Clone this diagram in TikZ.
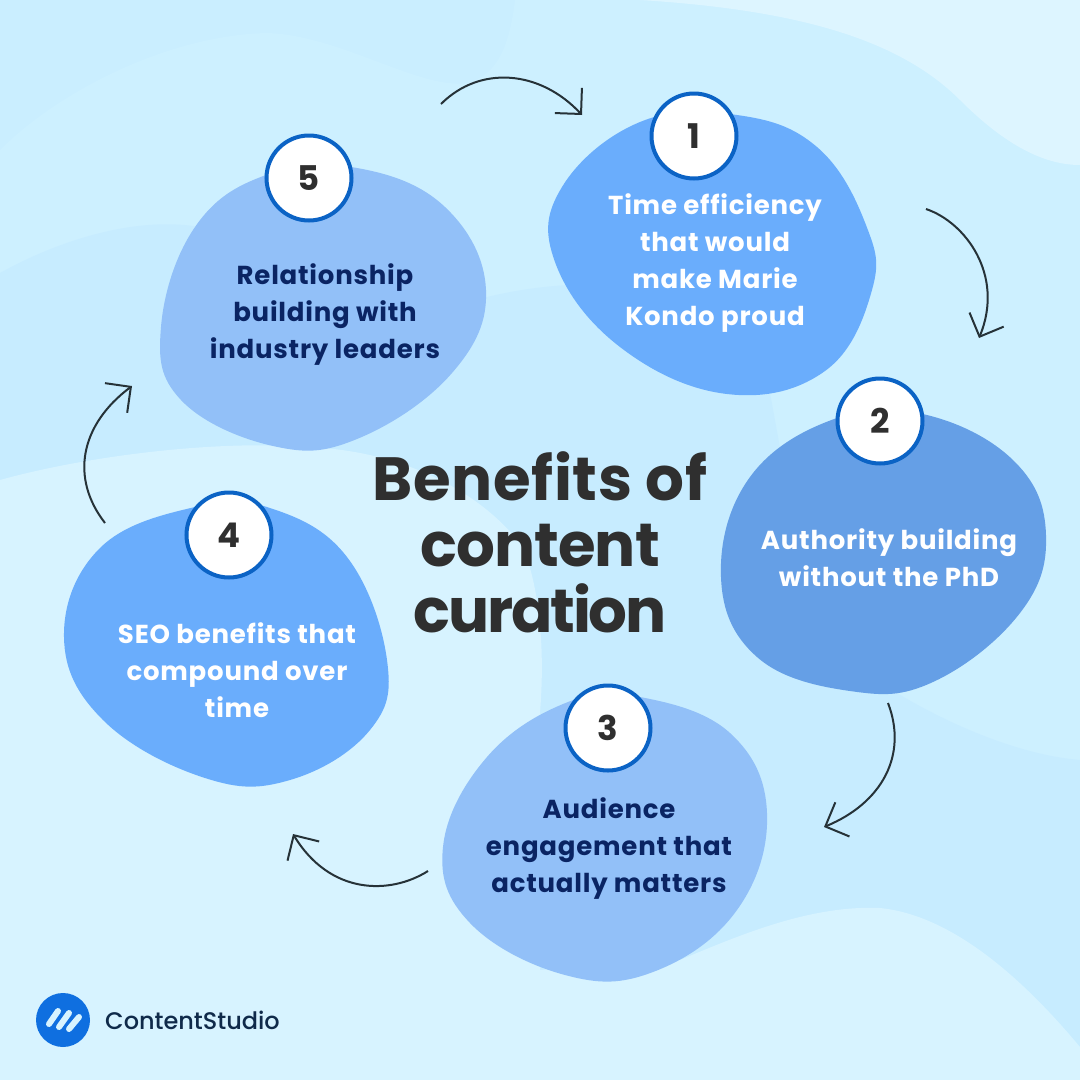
\documentclass[tikz,border=0pt]{standalone}
\usepackage{fontspec}
\setmainfont{Poppins}[BoldFont={Poppins Bold}]
\newfontfamily\brandfont{Poppins Medium}
\usetikzlibrary{arrows.meta}
\definecolor{BaseSky}{HTML}{CAEEFF}
\definecolor{LightSky}{HTML}{CDF0FF}
\definecolor{PaleSky}{HTML}{D7F3FF}
\definecolor{MidSky}{HTML}{C7ECFF}
\definecolor{TopSky}{HTML}{DDF5FF}
\definecolor{BlobBright}{HTML}{6AADFC}
\definecolor{BlobDeep}{HTML}{659FE6}
\definecolor{BlobSoft}{HTML}{92C0F8}
\definecolor{RingBlue}{HTML}{0B63C5}
\definecolor{NavyText}{HTML}{0A2463}
\definecolor{InkGrey}{HTML}{2F2F2F}
\definecolor{ArrowInk}{HTML}{263238}
\definecolor{LogoBlue}{HTML}{0F6FE0}
\definecolor{LogoText}{HTML}{0F2A4A}
\tikzset{
  numring/.style={circle,draw=RingBlue,line width=4pt,fill=white,minimum size=85pt,inner sep=0pt,
    text=InkGrey,font=\bfseries\fontsize{34}{34}\selectfont},
  whitetxt/.style={align=center,text=white,inner sep=0pt,
    font=\bfseries\fontsize{26}{37}\selectfont\addfontfeature{LetterSpace=3}},
  navytxt/.style={align=center,text=NavyText,inner sep=0pt,
    font=\bfseries\fontsize{26}{37}\selectfont\addfontfeature{LetterSpace=3}},
  curvearrow/.style={draw=ArrowInk,line width=2pt,-{Straight Barb[length=18.5pt,width=37pt,line width=2pt]}},
  blobcurve/.style={smooth cycle,tension=.68}
}
\begin{document}
\begin{tikzpicture}[x=1pt,y=-1pt]
  \useasboundingbox (0,0) rectangle (1080,1080);
  \fill[BaseSky] (0,0) rectangle (1080,1080);
  \fill[LightSky] (0,150) .. controls (60,90) and (170,35) .. (267,33) .. controls (340,35) and (420,90) .. (467,83) .. controls (500,75) and (510,40) .. (515,0) -- (1080,0) -- (1080,1080) -- (0,1080) -- cycle;
  \fill[TopSky] (640,0) .. controls (800,10) and (900,40) .. (960,100) .. controls (1000,140) and (1040,165) .. (1080,165) -- (1080,0) -- cycle;
  \fill[MidSky] (0,273) .. controls (50,245) and (130,215) .. (200,227) .. controls (300,245) and (400,305) .. (487,297) .. controls (600,270) and (740,280) .. (770,393) .. controls (790,500) and (810,650) .. (897,693) .. controls (950,725) and (1020,755) .. (1080,760) -- (1080,1080) -- (0,1080) -- cycle;
  \fill[PaleSky] (0,480) .. controls (90,455) and (220,440) .. (306,447) .. controls (400,450) and (480,490) .. (523,547) .. controls (540,590) and (545,650) .. (540,713) -- (540,1080) -- (0,1080) -- cycle;
  \fill[PaleSky] (540,1080) -- (540,970) -- (680,960) .. controls (740,935) and (810,905) .. (880,908) .. controls (950,915) and (1020,975) .. (1080,1047) -- (1080,1080) -- cycle;

  \fill[BlobBright] plot[blobcurve] coordinates {(737,115) (817,147) (866,225) (872,290) (825,371) (727,394) (620,347) (555,262) (562,187) (640,122)};
  \fill[BlobDeep] plot[blobcurve] coordinates {(927,415) (1015,462) (1046,535) (1020,613) (933,682) (850,691) (757,657) (721,577) (750,477) (837,418)};
  \fill[BlobSoft] plot[blobcurve] coordinates {(640,697) (730,733) (767,813) (737,910) (653,972) (565,975) (470,923) (443,847) (487,757) (568,702)};
  \fill[BlobBright] plot[blobcurve] coordinates {(270,508) (347,557) (387,660) (370,730) (290,780) (205,778) (103,720) (64,637) (100,548) (195,507)};
  \fill[BlobSoft] plot[blobcurve] coordinates {(357,168) (445,207) (486,290) (452,373) (357,439) (273,446) (181,400) (161,327) (195,227) (266,175)};

  \node[numring] (num1) at (694,136) {1};
  \node[numring] (num2) at (880,421) {2};
  \node[numring] (num3) at (608,728) {3};
  \node[numring] (num4) at (229,535) {4};
  \node[numring] (num5) at (309,178) {5};

  \node[whitetxt] (txt1) at (715,263) {Time efficiency\\that would\\make Marie\\Kondo proud};
  \node[whitetxt] (txt2) at (889,558) {Authority building\\without the PhD};
  \node[navytxt] (txt3) at (609,849) {Audience\\engagement that\\actually matters};
  \node[whitetxt] (txt4) at (237,670) {SEO benefits that\\compound over\\time};
  \node[navytxt] (txt5) at (325,315) {Relationship\\building with\\industry leaders};

  \node[align=center,text=InkGrey,inner sep=0pt,font=\bfseries\fontsize{61}{66}\selectfont] (title) at (540,542)
    {{\addfontfeature{LetterSpace=1}Benefits of}\\{\addfontfeature{LetterSpace=-1.5}content}\\{\addfontfeature{LetterSpace=-3.5}curation}};

  \coordinate (a1s) at (441,104);
  \coordinate (a1e) at (582,115);
  \coordinate (a2s) at (926,209);
  \coordinate (a2e) at (979,338);
  \coordinate (a3s) at (888,703);
  \coordinate (a3e) at (824,827);
  \coordinate (a4s) at (428,871);
  \coordinate (a4e) at (293,834);
  \coordinate (a5s) at (105,523);
  \coordinate (a5e) at (132,386);
  \draw[curvearrow] (a1s) .. controls (480,65) and (540,70) .. (a1e);
  \draw[curvearrow] (a2s) .. controls (965,222) and (1005,275) .. (a2e);
  \draw[curvearrow] (a3s) .. controls (908,755) and (882,803) .. (a3e);
  \draw[curvearrow] (a4s) .. controls (390,895) and (330,895) .. (a4e);
  \draw[curvearrow] (a5s) .. controls (70,478) and (80,425) .. (a5e);

  \node[circle,fill=LogoBlue,minimum size=54pt,inner sep=0pt] (logo) at (63,1020) {};
  \draw[PaleSky,line width=6pt,line cap=round] (49,1024) -- (58,1011);
  \draw[PaleSky,line width=6pt,line cap=round] (59,1027) -- (69,1013);
  \draw[PaleSky,line width=6pt,line cap=round] (69,1029) -- (79,1017);
  \node[anchor=west,text=LogoText,inner sep=0pt,font=\brandfont\fontsize{24}{24}\selectfont] (brand) at (105,1020) {ContentStudio};
\end{tikzpicture}
\end{document}
